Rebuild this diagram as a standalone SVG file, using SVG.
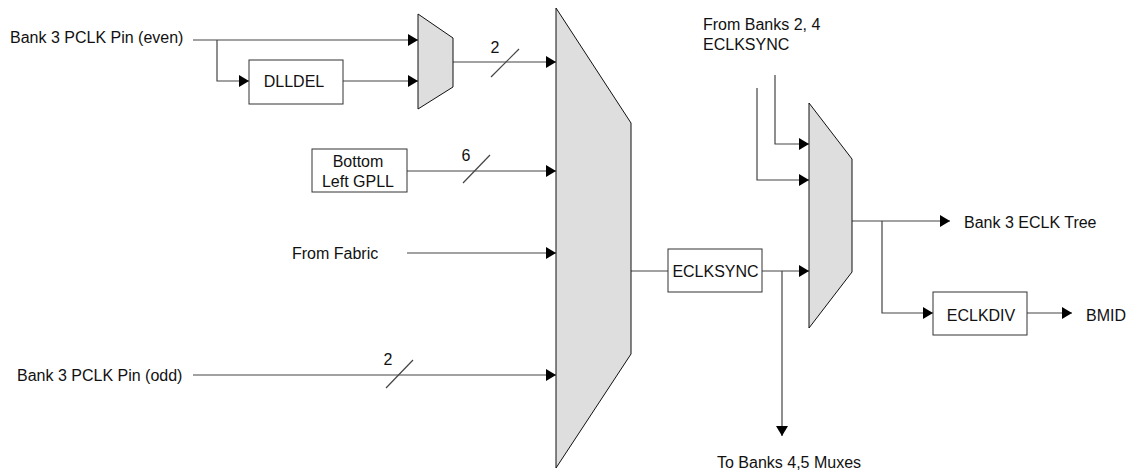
<svg xmlns="http://www.w3.org/2000/svg" width="1128" height="472" viewBox="0 0 1128 472">
<style>
text{font-family:"Liberation Sans",Arial,sans-serif;font-size:16px;fill:#111}
.c{text-anchor:middle}
.w{stroke:#444;stroke-width:1.2;fill:none}
.box{fill:#fff;stroke:#333;stroke-width:1}
.mux{fill:#dedede;stroke:#111;stroke-width:1}
</style>
<defs>
<marker id="ah" markerUnits="userSpaceOnUse" markerWidth="10" markerHeight="12" refX="10" refY="6" orient="auto" viewBox="0 0 10 12">
<path d="M0,0 L10,6 L0,12 z" fill="#000"/>
</marker>
</defs>
<rect width="1128" height="472" fill="#fff"/>
<g id="connectors">
<path class="w" d="M193,40 H418" marker-end="url(#ah)"/>
<path class="w" d="M217,40 V81 H249" marker-end="url(#ah)"/>
<path class="w" d="M343,81 H418" marker-end="url(#ah)"/>
<path class="w" d="M453,62 H556" marker-end="url(#ah)"/>
<path class="w" d="M491,77 L519,49"/>
<path class="w" d="M407,171 H556" marker-end="url(#ah)"/>
<path class="w" d="M463,183 L490,155"/>
<path class="w" d="M407,253 H556" marker-end="url(#ah)"/>
<path class="w" d="M193,375 H556" marker-end="url(#ah)"/>
<path class="w" d="M386,388 L413,360"/>
<path class="w" d="M631,271 H668"/>
<path class="w" d="M762,271 H809" marker-end="url(#ah)"/>
<path class="w" d="M782,271 V436" marker-end="url(#ah)"/>
<path class="w" d="M775,75 V144 H809" marker-end="url(#ah)"/>
<path class="w" d="M757,88 V180 H809" marker-end="url(#ah)"/>
<path class="w" d="M852,221 H950" marker-end="url(#ah)"/>
<path class="w" d="M882,221 V313 H933" marker-end="url(#ah)"/>
<path class="w" d="M1027,313 H1072" marker-end="url(#ah)"/>
</g>
<g id="mux-small"><path class="mux" d="M418,14 L453,38 V87 L418,109 Z"/></g>
<g id="mux-main"><path class="mux" d="M556,8 L631,123 V354 L556,468 Z"/></g>
<g id="mux-eclk"><path class="mux" d="M809,103 L852,159 V272 L809,328 Z"/></g>
<g id="dlldel"><rect class="box" x="249" y="60" width="94" height="44"/><text class="c" x="294" y="87">DLLDEL</text></g>
<g id="gpll"><rect class="box" x="312" y="149" width="95" height="43"/><text class="c" x="358" y="167">Bottom</text><text class="c" x="358" y="187">Left GPLL</text></g>
<g id="eclksync"><rect class="box" x="668" y="249" width="94" height="43"/><text class="c" x="715.5" y="277">ECLKSYNC</text></g>
<g id="eclkdiv"><rect class="box" x="933" y="292" width="94" height="43"/><text class="c" x="981" y="321">ECLKDIV</text></g>
<g id="labels">
<text x="10" y="43">Bank 3 PCLK Pin (even)</text>
<text class="c" x="495" y="53">2</text>
<text class="c" x="466" y="161">6</text>
<text x="292" y="259">From Fabric</text>
<text x="17" y="381">Bank 3 PCLK Pin (odd)</text>
<text class="c" x="388" y="365">2</text>
<text x="703" y="30">From Banks 2, 4</text>
<text x="703" y="50">ECLKSYNC</text>
<text x="964" y="228">Bank 3 ECLK Tree</text>
<text x="1086" y="321">BMID</text>
<text x="717" y="468">To Banks 4,5 Muxes</text>
</g>
</svg>
